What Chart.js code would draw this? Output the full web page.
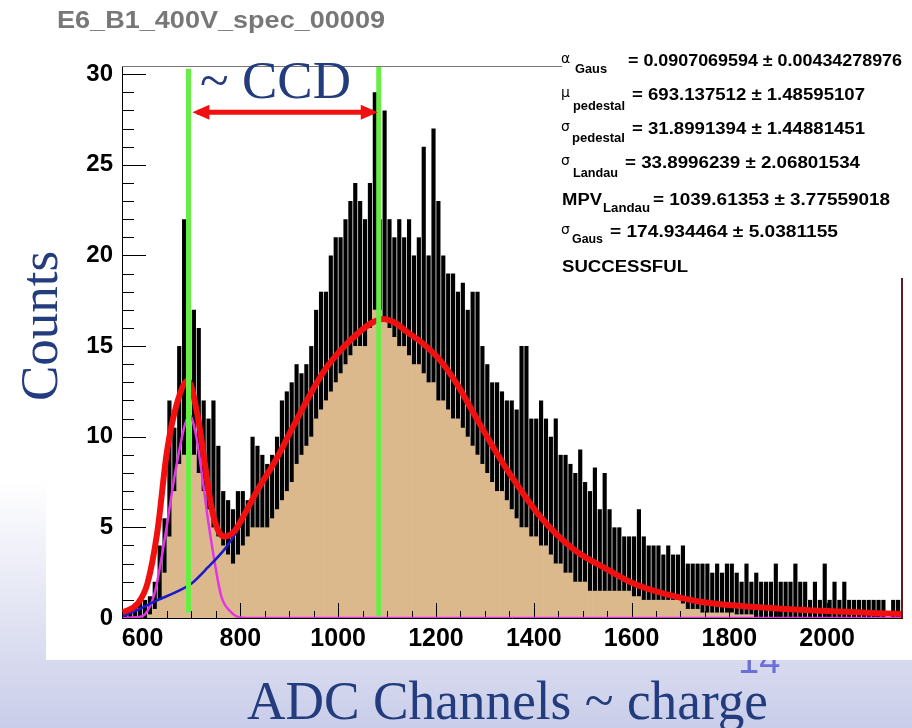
<!DOCTYPE html>
<html lang="en">
<head>
<meta charset="UTF-8">
<title>E6_B1_400V_spec_00009</title>
<script src="https://cdn.jsdelivr.net/npm/chart.js"></script>
<style>
    body { margin: 0; background: #fff; }
    #spec { display: block; }
</style>
</head>
<body>
<canvas id="spec" width="912" height="728"></canvas>

<script>
    // histogram, 10 channel bins from 560
    const binStart = 560;
    const binWidth = 10;

    // top of the noisy black band in each bin
    const countsHigh = [
        0.3, 0.5, 0.8, 1, 1, 1.2, 2, 4, 5.5, 12,          // 560-650
        10.5, 15, 22, 17, 17, 16, 12, 11, 12, 9.5,        // 660-750
        7, 6.5, 6, 7, 7, 6.5, 10, 9.5, 9, 8.5,            // 760-850
        9, 10, 12, 12.5, 13, 14, 13.5, 14, 15, 17,        // 860-950
        18, 18, 20, 21, 21, 22, 23, 24, 23, 22,           // 960-1050
        24, 29, 22, 28, 22, 21, 22, 21, 22, 20,           // 1060-1150
        21, 26, 20, 27, 23, 20, 19, 19, 18, 18.5,         // 1160-1250
        17, 18, 18, 15, 14, 13, 13, 12.5, 12, 12,         // 1260-1350
        11.5, 15, 15, 11, 11, 12, 11, 10, 11, 9,          // 1360-1450
        9, 8.5, 8, 9.3, 7.5, 7, 8.3, 6, 8, 6,             // 1460-1550
        5, 5, 4.5, 4.5, 4.5, 6, 4.5, 4, 4, 4,             // 1560-1650
        3.5, 4, 3.5, 3.5, 4, 3, 3, 3, 3, 3,               // 1660-1750
        2.5, 3, 2.5, 3, 3, 2.5, 2, 3, 2, 2.5,             // 1760-1850
        2, 2, 2, 3, 2, 2, 2, 3, 2, 2,                     // 1860-1950
        1, 2, 1, 3, 1, 2, 1, 2, 1, 1,                     // 1960-2050
        1, 1, 1, 1, 1, 1, 0, 1, 1                         // 2060-2140
    ];

    // top of the solid tan fill in each bin
    const countsLow = [
        0, 0, 0, 0, 0, 0.2, 0.5, 1, 2.5, 4.5,
        7, 8.5, 9, 9, 9, 8, 7, 6, 5, 4.5,
        4, 3.5, 3, 3.5, 4, 4.5, 5, 5, 5, 5,
        5.5, 6, 6.5, 7, 7.5, 8.5, 9, 9.5, 10, 11,
        11.5, 12, 12.5, 13, 13.5, 14, 14.5, 15, 15, 15,
        16, 17, 17, 16.5, 16, 15.5, 15, 15, 14.5, 14,
        14, 13.5, 13, 13, 12, 12, 11.5, 11, 11, 10.5,
        10, 9.5, 9, 8.5, 8, 7.5, 7, 7, 6.5, 6,
        5.5, 5, 5, 4.5, 4.5, 4, 4, 3.5, 3, 3,
        2.5, 2.5, 2, 2, 2, 1.5, 1.5, 1.5, 1.5, 1.5,
        1.5, 1.5, 1.5, 1.5, 1.2, 1.2, 1, 1, 1, 1,
        1, 1, 1, 1, 0.8, 0.5, 0.5, 0.5, 0.3, 0.3,
        0.3, 0.3, 0.3, 0.3, 0.3, 0.2, 0.2, 0.2, 0.2, 0,
        0, 0, 0, 0, 0, 0, 0, 0, 0, 0,
        0, 0, 0, 0, 0, 0, 0, 0, 0, 0,
        0, 0, 0, 0, 0, 0, 0, 0, 0
    ];

    // total fit (red)
    const totalFitCh = [560, 590, 610, 630, 650, 670, 693, 713, 727, 741, 755, 768, 788, 810, 836, 870, 905, 940, 973,
        1006, 1040, 1070, 1092, 1115, 1140, 1175, 1209, 1243, 1277, 1311, 1345, 1413, 1481, 1549, 1604, 1672, 1740, 1808, 1944, 2153];
    const totalFit = [0.3, 0.8, 1.9, 4.7, 9.2, 11.8, 13.1, 11.1, 8.6, 6.1, 4.8, 4.5, 4.8, 5.8, 7.1, 8.6, 10.4, 12.2, 13.7,
        14.8, 15.7, 16.3, 16.5, 16.3, 15.8, 15.1, 14.2, 12.9, 11.3, 9.7, 8.2, 5.6, 3.8, 2.7, 1.9, 1.3, 0.9, 0.7, 0.45, 0.22];

    // landau x gauss part (blue)
    const landauCh = [560, 590, 632, 666, 700, 734, 768, 785, 800];
    const landauFit = [0.1, 0.45, 1.0, 1.4, 1.9, 2.8, 3.8, 4.45, 5.1];

    // pedestal gauss (magenta)
    const pedestalCh = [560, 590, 605, 625, 645, 666, 686, 696, 710, 720, 734, 748, 761, 782, 800, 830, 2153];
    const pedestalFit = [0, 0.05, 0.2, 1.4, 4.3, 7.9, 10.6, 11.2, 10.0, 8.2, 5.4, 3.0, 1.2, 0.3, 0.03, 0, 0];

    // markers drawn on the slide
    const markerCh = [694, 1083];
    const arrowCh = [702, 1081];
    const arrowLevel = 27.9;

    const xTickValues = [600, 800, 1000, 1200, 1400, 1600, 1800, 2000];
    const yTickValues = [0, 5, 10, 15, 20, 25, 30];

    const pts = (xs, ys) => xs.map((x, i) => ({ x: x, y: ys[i] }));
    const centers = countsHigh.map((_, i) => binStart + binWidth * i + binWidth / 2);

    const statLines = [
        { sym: 'α', sub: 'Gaus', val: '= 0.0907069594 ± 0.00434278976', y: 66, subX: 575, subW: 32, valX: 628, valW: 274, subDy: 7 },
        { sym: 'μ', sub: 'pedestal', val: '= 693.137512 ± 1.48595107', y: 100, subX: 573, subW: 52, valX: 632, valW: 233, subDy: 10 },
        { sym: 'σ', sub: 'pedestal', val: '= 31.8991394 ± 1.44881451', y: 134, subX: 572, subW: 53, valX: 632, valW: 233, subDy: 8 },
        { sym: 'σ', sub: 'Landau', val: '= 33.8996239 ± 2.06801534', y: 168, subX: 573, subW: 45, valX: 625, valW: 235, subDy: 9 },
        { sym: 'MPV', sub: 'Landau', val: '= 1039.61353 ± 3.77559018', y: 205, subX: 603, subW: 47, valX: 653, valW: 237, subDy: 7 },
        { sym: 'σ', sub: 'Gaus', val: '= 174.934464 ± 5.0381155', y: 237, subX: 572, subW: 31, valX: 610, valW: 228, subDy: 6 }
    ];

    function fitText(ctx, text, x, y, w) {
        const m = ctx.measureText(text).width;
        ctx.save();
        ctx.translate(x, y);
        ctx.scale(w / m, 1);
        ctx.fillText(text, 0, 0);
        ctx.restore();
    }

    const slidePlugin = {
        id: 'slide',
        beforeDraw(chart) {
            const ctx = chart.ctx;
            const g = ctx.createLinearGradient(0, 480, 0, 728);
            g.addColorStop(0, '#ffffff');
            g.addColorStop(1, '#c9cde9');
            ctx.save();
            ctx.fillStyle = g;
            ctx.fillRect(0, 0, 912, 728);
            // slide number, partly hidden by the picture
            ctx.fillStyle = '#6b6fd6';
            ctx.font = '38px "Liberation Sans"';
            ctx.textAlign = 'left';
            ctx.fillText('14', 738, 673);
            ctx.fillStyle = '#ffffff';
            ctx.fillRect(46, 0, 866, 660);
            ctx.restore();
        },
        afterDatasetDraw(chart, args) {
            if (args.index !== 1) return;
            const ctx = chart.ctx;
            const x = chart.scales.x, y = chart.scales.y;
            const a = chart.chartArea;
            ctx.save();
            ctx.strokeStyle = '#000';
            ctx.lineWidth = 1;
            ctx.beginPath();
            for (let v = 0; v <= 30; v++) {
                const py = Math.round(y.getPixelForValue(v)) + 0.5;
                ctx.moveTo(a.left, py);
                ctx.lineTo(a.left + (v % 5 === 0 ? 24 : 12), py);
            }
            for (let v = 600; v <= 2150; v += 50) {
                const px = Math.round(x.getPixelForValue(v)) + 0.5;
                ctx.moveTo(px, a.bottom);
                ctx.lineTo(px, a.bottom - (v % 200 === 0 ? 15 : 7));
            }
            ctx.stroke();
            ctx.restore();
        },
        afterDraw(chart) {
            const ctx = chart.ctx;
            const x = chart.scales.x, y = chart.scales.y;
            const a = chart.chartArea;
            ctx.save();

            // frame top / right
            ctx.strokeStyle = '#777';
            ctx.lineWidth = 1;
            ctx.beginPath();
            ctx.moveTo(a.left, a.top + 0.5);
            ctx.lineTo(562, a.top + 0.5);
            ctx.stroke();
            ctx.strokeStyle = '#5a1e1e';
            ctx.lineWidth = 2;
            ctx.beginPath();
            ctx.moveTo(a.right, 278);
            ctx.lineTo(a.right, a.bottom);
            ctx.stroke();

            // arrow heads
            const ay = y.getPixelForValue(arrowLevel);
            const xl = x.getPixelForValue(arrowCh[0]);
            const xr = x.getPixelForValue(arrowCh[1]);
            ctx.fillStyle = '#f01010';
            ctx.beginPath();
            ctx.moveTo(xl, ay);
            ctx.lineTo(xl + 17, ay - 7.5);
            ctx.lineTo(xl + 17, ay + 7.5);
            ctx.closePath();
            ctx.moveTo(xr, ay);
            ctx.lineTo(xr - 17, ay - 7.5);
            ctx.lineTo(xr - 17, ay + 7.5);
            ctx.closePath();
            ctx.fill();

            // title
            ctx.fillStyle = '#777777';
            ctx.font = 'bold 24px "Liberation Sans"';
            ctx.textAlign = 'left';
            ctx.textBaseline = 'alphabetic';
            fitText(ctx, 'E6_B1_400V_spec_00009', 57, 28, 328);

            // slide annotations
            ctx.fillStyle = '#233c7e';
            ctx.font = '53px "Liberation Serif"';
            ctx.fillText('~ CCD', 200, 98);

            ctx.save();
            ctx.translate(57, 326);
            ctx.rotate(-Math.PI / 2);
            ctx.textAlign = 'center';
            ctx.fillText('Counts', 0, 0);
            ctx.restore();

            ctx.font = '54px "Liberation Serif"';
            fitText(ctx, 'ADC Channels ~ charge', 247, 719, 521);

            // fit statistics box
            ctx.fillStyle = '#000';
            statLines.forEach(l => {
                if (l.sym === 'MPV') {
                    ctx.font = 'bold 16px "Liberation Sans"';
                    fitText(ctx, 'MPV', 562, l.y, 40);
                } else {
                    ctx.font = '14px "DejaVu Sans"';
                    ctx.fillText(l.sym, 561, l.y - 3);
                }
                ctx.font = 'bold 12px "Liberation Sans"';
                fitText(ctx, l.sub, l.subX, l.y + l.subDy, l.subW);
                ctx.font = 'bold 16px "Liberation Sans"';
                fitText(ctx, l.val, l.valX, l.y, l.valW);
            });
            ctx.font = 'bold 16px "Liberation Sans"';
            fitText(ctx, 'SUCCESSFUL', 562, 272, 126);

            ctx.restore();
        }
    };

    const tickFont = { family: 'Liberation Sans', weight: 'bold', size: 25 };

    new Chart(document.getElementById('spec'), {
        type: 'bar',
        data: {
            datasets: [
                {
                    type: 'bar',
                    data: pts(centers, countsLow),
                    backgroundColor: '#dcb98c',
                    barPercentage: 1,
                    categoryPercentage: 1,
                    grouped: false,
                    order: 7
                },
                {
                    type: 'bar',
                    data: centers.map((c, i) => ({ x: c, y: [countsLow[i], countsHigh[i]] })),
                    backgroundColor: '#000000',
                    barPercentage: 0.85,
                    categoryPercentage: 1,
                    grouped: false,
                    order: 6
                },
                {
                    type: 'line',
                    data: pts(pedestalCh, pedestalFit),
                    borderColor: '#e236e2',
                    borderWidth: 2.5,
                    pointRadius: 0,
                    cubicInterpolationMode: 'monotone',
                    order: 4
                },
                {
                    type: 'line',
                    data: pts(landauCh, landauFit),
                    borderColor: '#1a1acc',
                    borderWidth: 2.5,
                    pointRadius: 0,
                    cubicInterpolationMode: 'monotone',
                    order: 3
                },
                {
                    type: 'line',
                    data: pts(totalFitCh, totalFit),
                    borderColor: '#f01010',
                    borderWidth: 6,
                    pointRadius: 0,
                    cubicInterpolationMode: 'monotone',
                    order: 2
                },
                {
                    type: 'line',
                    data: [{ x: markerCh[0], y: 0.3 }, { x: markerCh[0], y: 30.3 }],
                    borderColor: '#66ee44',
                    borderWidth: 5,
                    pointRadius: 0,
                    order: 1
                },
                {
                    type: 'line',
                    data: [{ x: markerCh[1], y: 0.1 }, { x: markerCh[1], y: 30.45 }],
                    borderColor: '#66ee44',
                    borderWidth: 5,
                    pointRadius: 0,
                    order: 1
                },
                {
                    type: 'line',
                    data: [{ x: arrowCh[0] + 10, y: arrowLevel }, { x: arrowCh[1] - 10, y: arrowLevel }],
                    borderColor: '#f01010',
                    borderWidth: 5,
                    pointRadius: 0,
                    order: 0
                }
            ]
        },
        options: {
            responsive: false,
            animation: false,
            devicePixelRatio: 1,
            layout: { padding: { left: 0, top: 66, right: 10, bottom: 0 } },
            plugins: {
                legend: { display: false },
                tooltip: { enabled: false }
            },
            scales: {
                x: {
                    type: 'linear',
                    min: 558,
                    max: 2153,
                    offset: false,
                    grid: { display: false, drawTicks: false },
                    border: { display: true, color: '#000', width: 1 },
                    afterBuildTicks: s => { s.ticks = xTickValues.map(v => ({ value: v })); },
                    afterFit: s => { s.height = 110; },
                    ticks: { padding: 6, color: '#000', font: tickFont, maxRotation: 0, autoSkip: false, callback: v => String(v) }
                },
                y: {
                    type: 'linear',
                    min: 0,
                    max: 30.45,
                    grid: { display: false, drawTicks: false },
                    border: { display: true, color: '#000', width: 1 },
                    afterBuildTicks: s => { s.ticks = yTickValues.map(v => ({ value: v })); },
                    afterFit: s => { s.width = 122; },
                    ticks: { padding: 9, color: '#000', font: { family: 'Liberation Sans', weight: 'bold', size: 24 }, callback: v => String(v) }
                }
            }
        },
        plugins: [slidePlugin]
    });
</script>
</body>
</html>
